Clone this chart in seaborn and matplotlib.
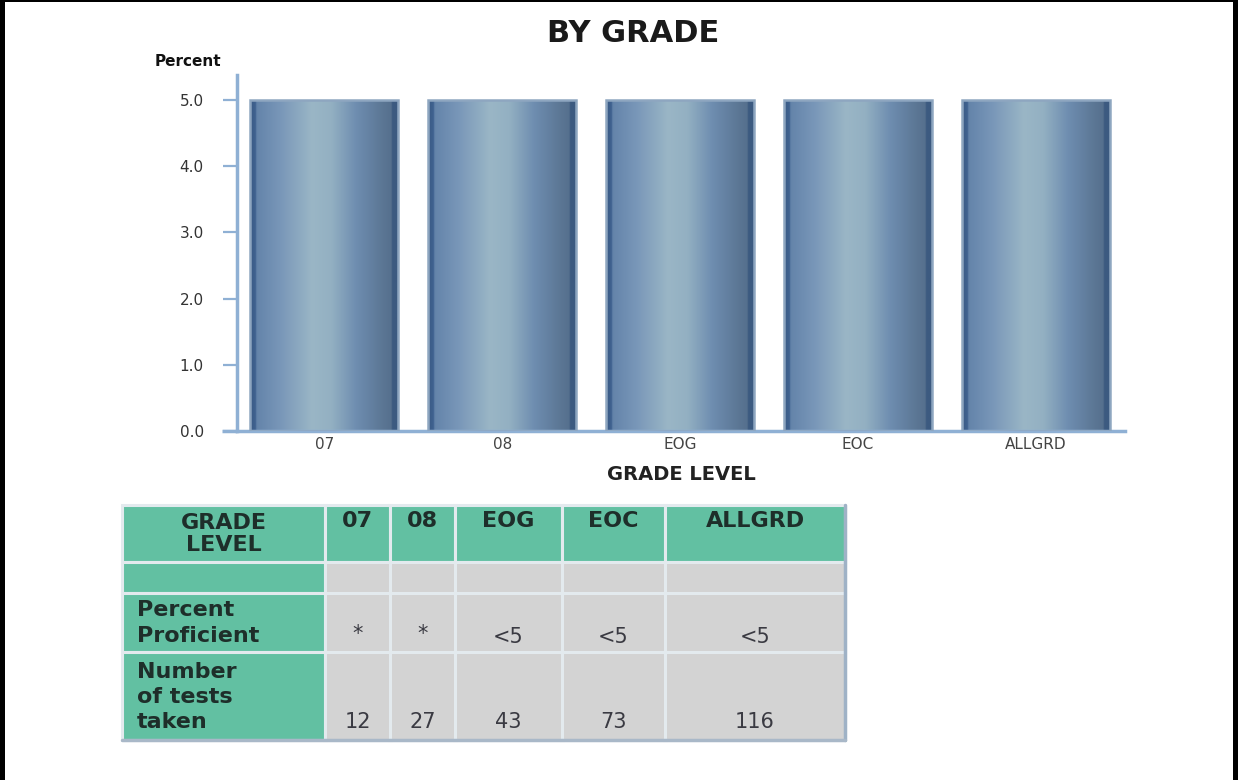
import numpy as np
import matplotlib
matplotlib.use("Agg")
import matplotlib.pyplot as plt
from matplotlib.colors import LinearSegmentedColormap
from matplotlib.patches import Rectangle
import seaborn as sns

# ==========================
# DATA
# ==========================

grades = ["07", "08", "EOG", "EOC", "ALLGRD"]
pct_values = [5.0, 5.0, 5.0, 5.0, 5.0]
pct_labels = ["*", "*", "<5", "<5", "<5"]
tests_taken = [12, 27, 43, 73, 116]
y_ticks = [0.0, 1.0, 2.0, 3.0, 4.0, 5.0]

row_labels = ["", "Percent\nProficient", "Number\nof tests\ntaken"]

# ==========================
# STYLE
# ==========================

sns.set_style("white")
plt.rcParams["font.family"] = ["DejaVu Sans"]

fig = plt.figure(figsize=(12.38, 7.8), dpi=100)
W, H = 1238, 780

ax = fig.add_axes([237 / W, 1 - 431 / H, (1125 - 237) / W, (431 - 75) / H])

sns.barplot(
    x=grades,
    y=pct_values,
    ax=ax,
    width=0.83,
    color="#7090b0",
    saturation=1,
    zorder=2
)

# gradient fill on each bar
bar_cmap = LinearSegmentedColormap.from_list(
    "bar",
    [
        (0.00, "#3a5a84"),
        (0.035, "#3f6290"),
        (0.045, "#6484aa"),
        (0.20, "#7896b8"),
        (0.42, "#9ab6c6"),
        (0.55, "#93b0c2"),
        (0.72, "#6e8db0"),
        (0.90, "#5b7694"),
        (0.955, "#56708e"),
        (0.965, "#3c5a80"),
        (1.00, "#3c5a80"),
    ]
)
grad = np.linspace(0, 1, 256).reshape(1, -1)

for p in ax.patches:
    x0 = p.get_x()
    x1 = x0 + p.get_width()
    h = p.get_height()
    im = ax.imshow(
        grad,
        extent=[x0, x1, 0, h],
        aspect="auto",
        cmap=bar_cmap,
        zorder=2,
        interpolation="bilinear"
    )
    im.set_clip_path(p)
    p.set_facecolor("none")
    p.set_edgecolor("#8ea6c0")
    p.set_linewidth(1.8)
    p.set_zorder(3)

ax.set_xlim(-0.49, 4.5)
ax.set_ylim(0, 5.38)

ax.set_yticks(y_ticks)
ax.set_yticklabels([f"{v:.1f}" for v in y_ticks], fontsize=11, color="#333333")
ax.tick_params(axis="y", left=True, length=10, width=1.6, color="#8fb0d4", pad=14, direction="out")
ax.tick_params(axis="x", bottom=False, length=0, labelsize=11, labelcolor="#444444", pad=4)

for s in ["top", "right"]:
    ax.spines[s].set_visible(False)
for s in ["left", "bottom"]:
    ax.spines[s].set_color("#8fb0d4")
    ax.spines[s].set_linewidth(2.5)

ax.set_xlabel("GRADE LEVEL", fontsize=14, fontweight="bold", color="#222222", labelpad=10)
ax.set_ylabel("")

fig.text(155 / W, 1 - 61 / H, "Percent", fontsize=11, fontweight="bold",
         color="#111111", ha="left", va="center")
fig.text(633 / W, 1 - 33 / H, "BY GRADE", fontsize=22, fontweight="bold",
         color="#1a1a1a", ha="center", va="center")

# ==========================
# TABLE + FRAME (pixel axes)
# ==========================

ov = fig.add_axes([0, 0, 1, 1])
ov.set_xlim(0, W)
ov.set_ylim(H, 0)
ov.axis("off")

# x axis line runs a little left of the y axis
ov.plot([222, 237], [431, 431], color="#8fb0d4", lw=2.5, solid_capstyle="butt")

col_x = [122, 325, 390, 455, 562, 665, 845]
row_y = [505, 562, 593, 652, 740]
green = "#62c0a2"
grey = "#d3d3d3"
line_c = "#e3eaee"

for r in range(4):
    for c in range(6):
        fc = green if (r == 0 or c == 0) else grey
        ov.add_patch(Rectangle(
            (col_x[c], row_y[r]),
            col_x[c + 1] - col_x[c],
            row_y[r + 1] - row_y[r],
            facecolor=fc, edgecolor=line_c, linewidth=2.2
        ))

# outer border
ov.plot([col_x[-1], col_x[-1]], [row_y[0], row_y[-1]], color="#9fb2c6", lw=2.5)
ov.plot([col_x[0], col_x[-1]], [row_y[-1], row_y[-1]], color="#a9b8c8", lw=2.5)

hdr_kw = dict(fontsize=16, fontweight="bold", color="#1e2e2a")
ov.text((col_x[0] + col_x[1]) / 2, 534, "GRADE\nLEVEL", ha="center", va="center",
        linespacing=1.15, **hdr_kw)
for i, g in enumerate(grades):
    ov.text((col_x[i + 1] + col_x[i + 2]) / 2, 521, g, ha="center", va="center", **hdr_kw)

ov.text(137, 623, row_labels[1], ha="left", va="center", linespacing=1.4, **hdr_kw)
ov.text(137, 697, row_labels[2], ha="left", va="center", linespacing=1.3, **hdr_kw)

val_kw = dict(fontsize=15, color="#3a3a42", ha="center", va="center")
for i in range(len(grades)):
    cx = (col_x[i + 1] + col_x[i + 2]) / 2
    if pct_labels[i] == "*":
        ov.text(cx, 634, pct_labels[i], **val_kw)
    else:
        ov.text(cx, 637, pct_labels[i], **val_kw)
    ov.text(cx, 722, str(tests_taken[i]), **val_kw)

# black frame
ov.add_patch(Rectangle((0, 0), 4.5, H, facecolor="black", edgecolor="none"))
ov.add_patch(Rectangle((1233, 0), 5, H, facecolor="black", edgecolor="none"))
ov.add_patch(Rectangle((0, 0), W, 1.5, facecolor="black", edgecolor="none"))

fig.savefig("out.png", dpi=100)
